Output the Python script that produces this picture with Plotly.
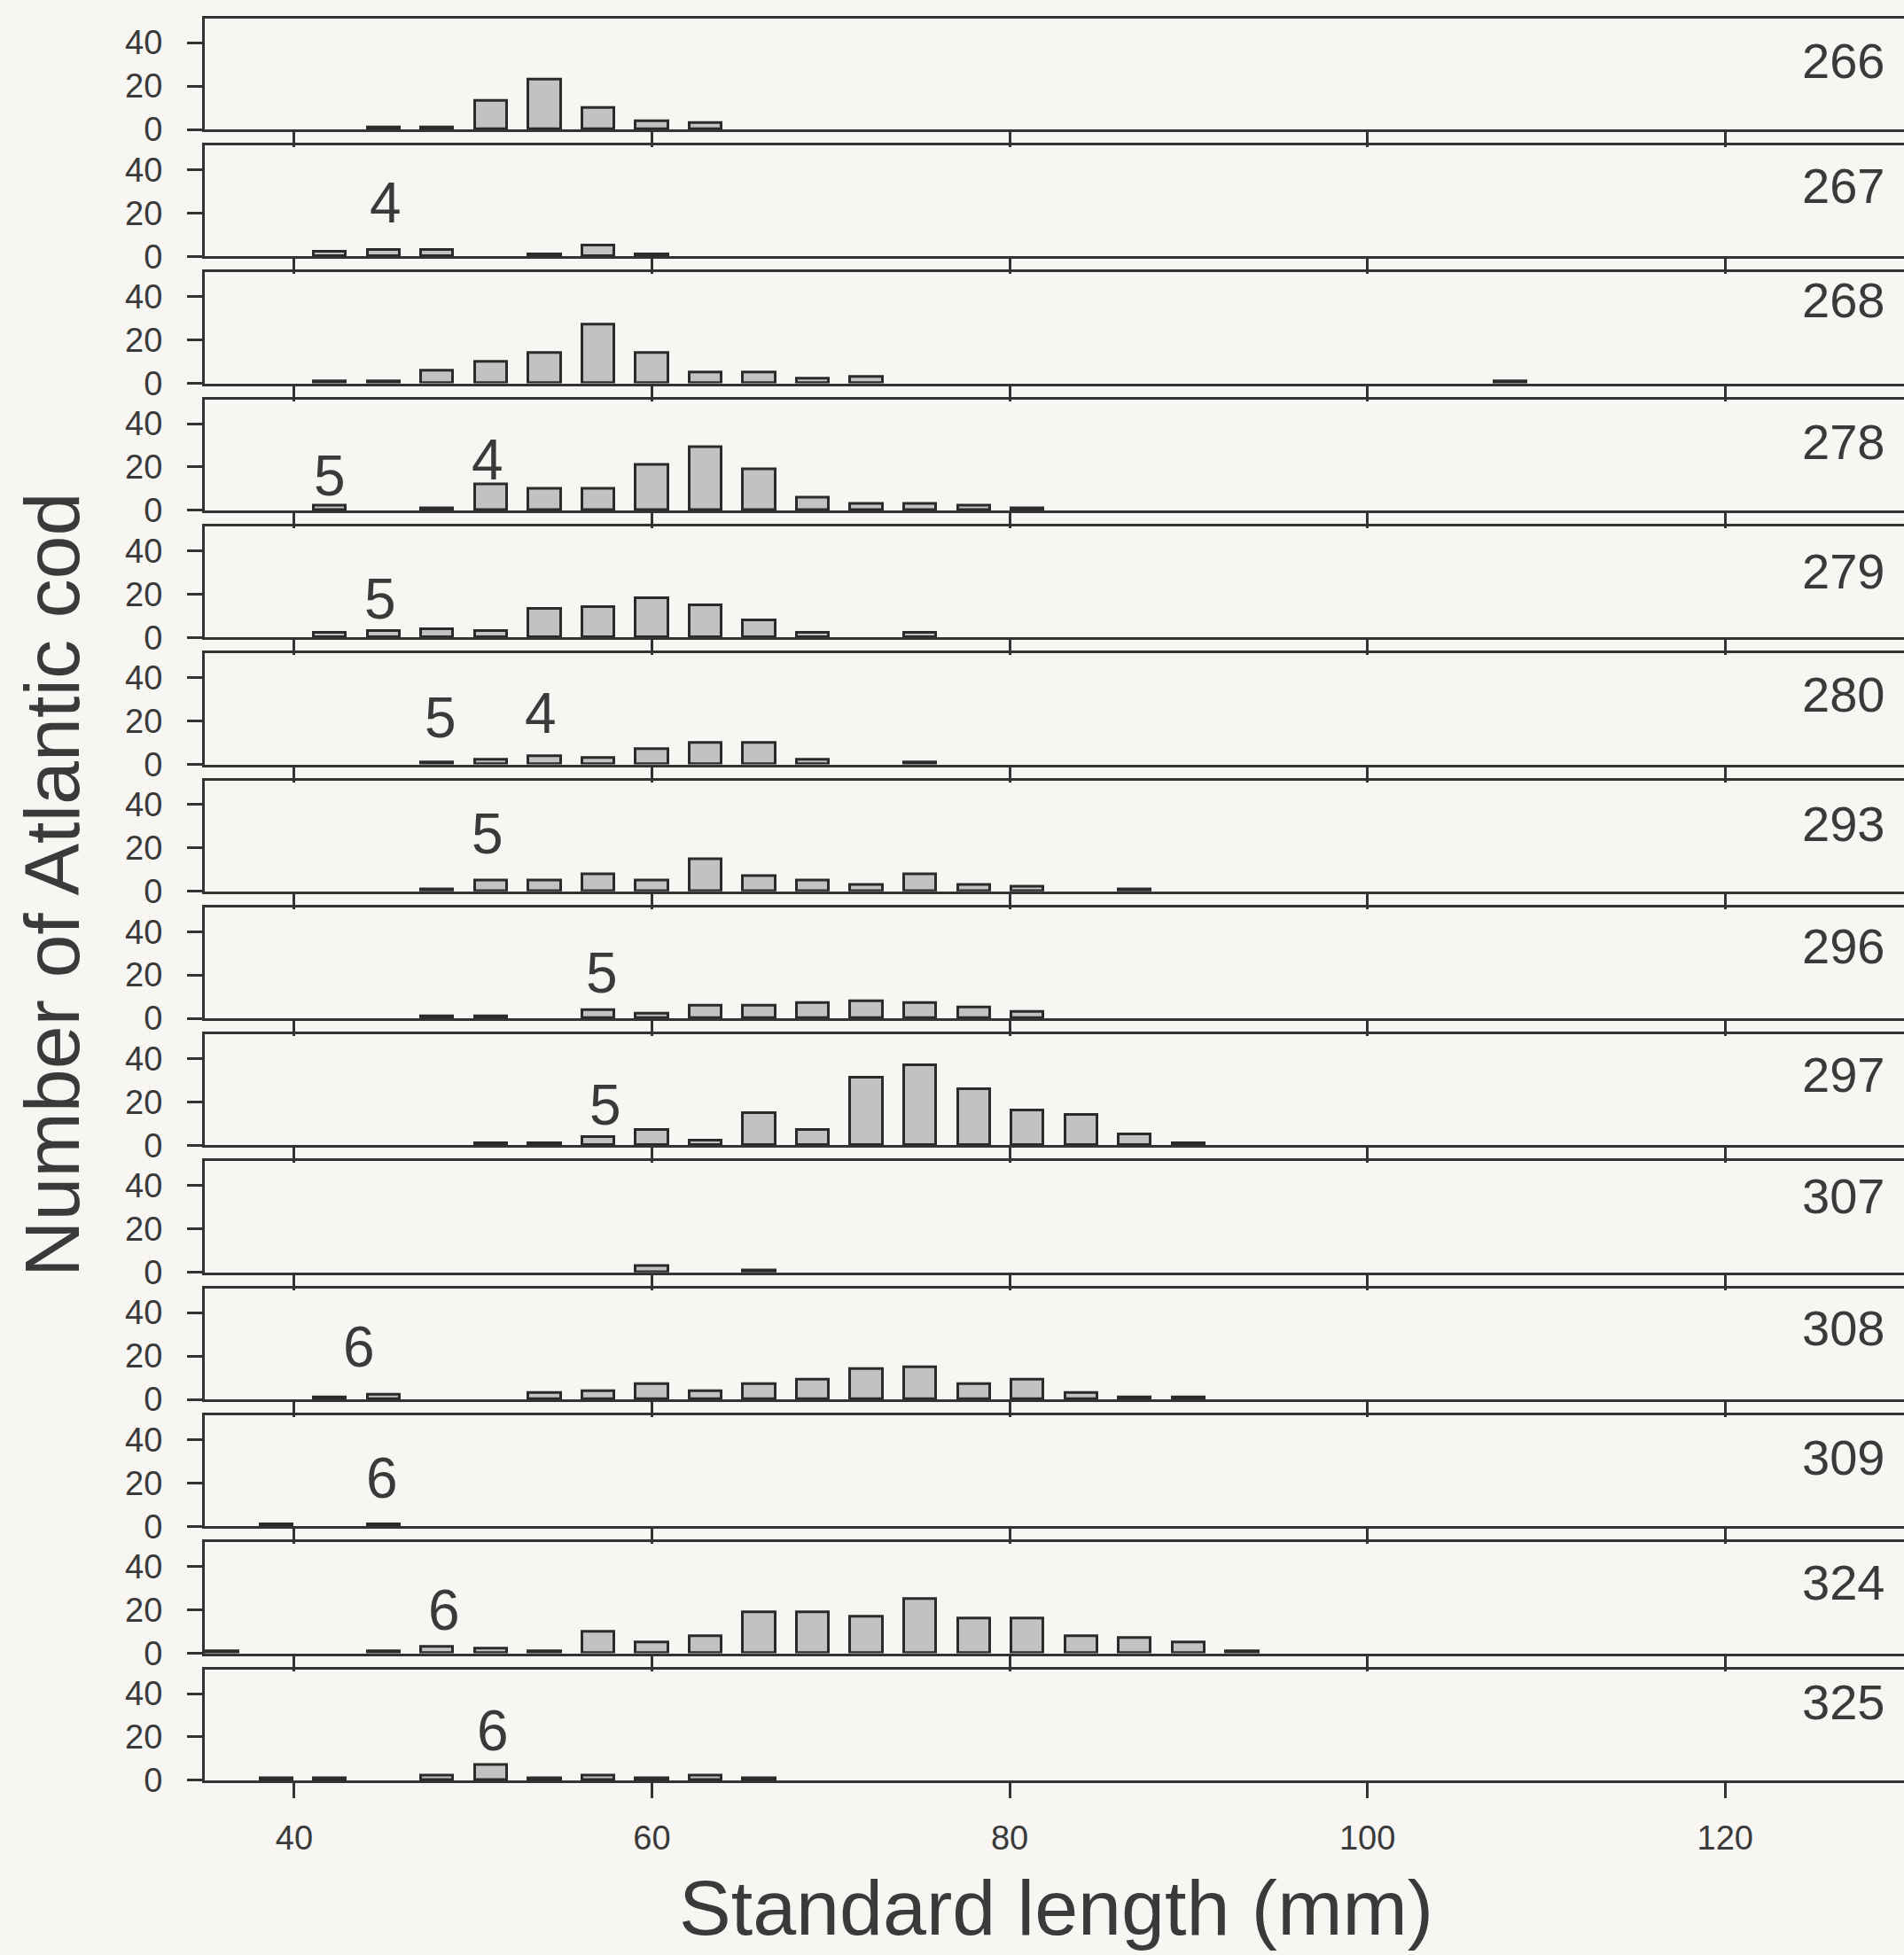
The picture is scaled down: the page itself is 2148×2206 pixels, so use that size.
import plotly.graph_objects as go

# ---------------- data ----------------
bin_centers = [36, 39, 42, 45, 48, 51, 54, 57, 60, 63, 66, 69, 72, 75, 78,
               81, 84, 87, 90, 93, 96, 99, 102, 105, 108]

panel_ids = ["266", "267", "268", "278", "279", "280", "293", "296", "297",
             "307", "308", "309", "324", "325"]

#                36 39 42 45 48  51  54  57  60  63  66  69  72  75  78  81  84 87 90 93 96 99 102 105 108
counts_266 = [0, 0, 0, 1, 1, 13, 23, 10, 4, 3, 0, 0, 0, 0, 0, 0, 0, 0, 0, 0, 0, 0, 0, 0, 0]
counts_267 = [0, 0, 2, 3, 3, 0, 1, 5, 1, 0, 0, 0, 0, 0, 0, 0, 0, 0, 0, 0, 0, 0, 0, 0, 0]
counts_268 = [0, 0, 1, 1, 6, 10, 14, 27, 14, 5, 5, 2, 3, 0, 0, 0, 0, 0, 0, 0, 0, 0, 0, 0, 1]
counts_278 = [0, 0, 2, 0, 1, 12, 10, 10, 21, 29, 19, 6, 3, 3, 2, 1, 0, 0, 0, 0, 0, 0, 0, 0, 0]
counts_279 = [0, 0, 2, 3, 4, 3, 13, 14, 18, 15, 8, 2, 0, 2, 0, 0, 0, 0, 0, 0, 0, 0, 0, 0, 0]
counts_280 = [0, 0, 0, 0, 1, 2, 4, 3, 7, 10, 10, 2, 0, 1, 0, 0, 0, 0, 0, 0, 0, 0, 0, 0, 0]
counts_293 = [0, 0, 0, 0, 1, 5, 5, 8, 5, 15, 7, 5, 3, 8, 3, 2, 0, 1, 0, 0, 0, 0, 0, 0, 0]
counts_296 = [0, 0, 0, 0, 1, 1, 0, 4, 2, 6, 6, 7, 8, 7, 5, 3, 0, 0, 0, 0, 0, 0, 0, 0, 0]
counts_297 = [0, 0, 0, 0, 0, 1, 1, 4, 7, 2, 15, 7, 31, 37, 26, 16, 14, 5, 1, 0, 0, 0, 0, 0, 0]
counts_307 = [0, 0, 0, 0, 0, 0, 0, 0, 3, 0, 1, 0, 0, 0, 0, 0, 0, 0, 0, 0, 0, 0, 0, 0, 0]
counts_308 = [0, 0, 1, 2, 0, 0, 3, 4, 7, 4, 7, 9, 14, 15, 7, 9, 3, 1, 1, 0, 0, 0, 0, 0, 0]
counts_309 = [0, 1, 0, 1, 0, 0, 0, 0, 0, 0, 0, 0, 0, 0, 0, 0, 0, 0, 0, 0, 0, 0, 0, 0, 0]
counts_324 = [1, 0, 0, 1, 3, 2, 1, 10, 5, 8, 19, 19, 17, 25, 16, 16, 8, 7, 5, 1, 0, 0, 0, 0, 0]
counts_325 = [0, 1, 1, 0, 2, 7, 1, 2, 1, 2, 1, 0, 0, 0, 0, 0, 0, 0, 0, 0, 0, 0, 0, 0, 0]

all_counts = [counts_266, counts_267, counts_268, counts_278, counts_279,
              counts_280, counts_293, counts_296, counts_297, counts_307,
              counts_308, counts_309, counts_324, counts_325]

# age-class labels inside panels: panel index, x (mm), y (count units), text
label_panel = [1, 3, 3, 4, 5, 5, 6, 7, 8, 10, 11, 12, 13]
label_x = [45.1, 42.0, 50.8, 44.8, 48.2, 53.8, 50.8, 57.2, 57.4, 43.6, 44.9, 48.4, 51.1]
label_y = [24.8, 16.0, 23.3, 17.5, 21.4, 23.3, 26.4, 20.9, 18.6, 24.1, 22.2, 20.0, 22.9]
label_text = ["4", "5", "4", "5", "5", "4", "5", "5", "5", "6", "6", "6", "6"]

# vertical position of panel id labels (count units)
id_label_y = [31.6, 32.8, 38.5, 31.6, 30.5, 32.2, 31.0, 33.3, 32.8, 35.1, 32.8, 31.6, 32.8, 36.2]

x_ticks = [40, 60, 80, 100, 120]
y_ticks = [0, 20, 40]

# ---------------- layout geometry ----------------
W, H = 2148, 2206
LEFT = 231
TOP0, BOT0, STEP = 20.7, 146.0, 143.3
INK = "#333333"
TXT = "#3a3a3a"
BG = "#f7f6f3"
FONT = "Liberation Sans, Arial, sans-serif"
TICK_SIZE = 38

fig = go.Figure()
n = len(panel_ids)
layout = {}
annotations = []

for i in range(n):
    k = "" if i == 0 else str(i + 1)
    xs = [c for c, v in zip(bin_centers, all_counts[i]) if v > 0]
    ys = [v for v in all_counts[i] if v > 0]
    fig.add_trace(go.Bar(
        x=xs, y=ys, width=1.8,
        marker=dict(color="#c2c2c2", line=dict(color="#2b2b2b", width=3)),
        xaxis="x" + k, yaxis="y" + k, showlegend=False, hoverinfo="x+y"))

    top_px = TOP0 + i * STEP
    bot_px = BOT0 + i * STEP
    ydom = [1 - bot_px / H, 1 - top_px / H]
    last = (i == n - 1)
    layout["xaxis" + k] = dict(
        domain=[LEFT / W, 1], range=[35, 130], anchor="y" + k,
        showline=True, linewidth=3, linecolor=INK, mirror=True,
        ticks="outside", ticklen=17, tickwidth=3, tickcolor=INK,
        tickvals=x_ticks, ticktext=[str(t) for t in x_ticks],
        showticklabels=last, ticklabelstandoff=12,
        tickfont=dict(size=TICK_SIZE, color=TXT, family=FONT),
        showgrid=False, zeroline=False, fixedrange=True)
    layout["yaxis" + k] = dict(
        domain=ydom, range=[0, 51.2], anchor="x" + k,
        showline=True, linewidth=3, linecolor=INK, mirror=False,
        ticks="outside", ticklen=17, tickwidth=3, tickcolor=INK,
        tickvals=y_ticks, ticktext=[str(t) for t in y_ticks],
        ticklabelstandoff=20,
        tickfont=dict(size=TICK_SIZE, color=TXT, family=FONT),
        showgrid=False, zeroline=False, fixedrange=True)

    annotations.append(dict(
        x=129.0, y=id_label_y[i], xref="x" + k, yref="y" + k,
        text=panel_ids[i], showarrow=False, xanchor="right", yanchor="middle",
        font=dict(size=56, color=TXT, family=FONT)))

for p, lx, ly, lt in zip(label_panel, label_x, label_y, label_text):
    k = "" if p == 0 else str(p + 1)
    annotations.append(dict(
        x=lx, y=ly, xref="x" + k, yref="y" + k, text=lt, showarrow=False,
        xanchor="center", yanchor="middle",
        font=dict(size=64, color=TXT, family=FONT)))

annotations.append(dict(
    x=59 / W, y=1 - 999 / H, xref="paper", yref="paper",
    text="Number of Atlantic cod", textangle=-90, showarrow=False,
    xanchor="center", yanchor="middle",
    font=dict(size=88, color=TXT, family=FONT)))
annotations.append(dict(
    x=1191 / W, y=1 - 2152 / H, xref="paper", yref="paper",
    text="Standard length (mm)", showarrow=False,
    xanchor="center", yanchor="middle",
    font=dict(size=88, color=TXT, family=FONT)))

fig.update_layout(
    width=W, height=H, margin=dict(l=0, r=0, t=0, b=0),
    paper_bgcolor=BG, plot_bgcolor=BG, template="none",
    font=dict(family=FONT, color=TXT), bargap=0,
    annotations=annotations, **layout)

fig.write_html("out.html", config={"displayModeBar": False})
